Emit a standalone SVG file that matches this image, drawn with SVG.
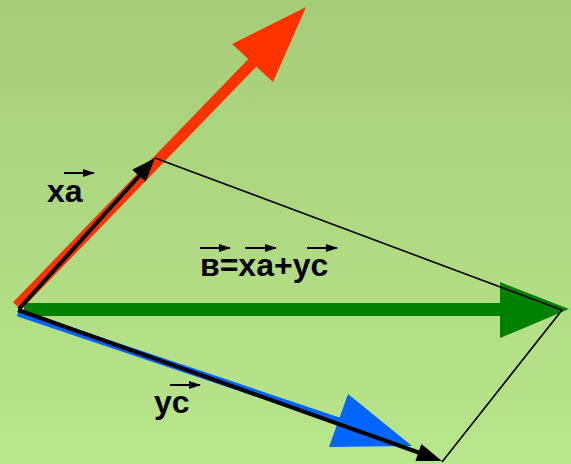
<svg xmlns="http://www.w3.org/2000/svg" width="571" height="464" viewBox="0 0 571 464">
<defs>
<linearGradient id="bg" x1="0" y1="0" x2="0" y2="1">
<stop offset="0" stop-color="#a6cd79"/>
<stop offset="1" stop-color="#b8e68c"/>
</linearGradient>
<marker id="sm" markerWidth="12" markerHeight="8" refX="11" refY="4" orient="auto" markerUnits="userSpaceOnUse">
<path d="M0,0 L12,4 L0,8 Z" fill="#000"/>
</marker>
</defs>
<style>
.lbl{font-family:"Liberation Sans",Arial,sans-serif;font-weight:bold;font-size:32px;fill:#000}
.ov{stroke:#000;stroke-width:2;marker-end:url(#sm)}
.thin{fill:none;stroke:#000;stroke-width:1.6}
</style>
<rect width="571" height="464" fill="url(#bg)"/>
<g id="connectors">
<g id="green">
<line x1="24" y1="309.5" x2="505" y2="309.5" stroke="#008000" stroke-width="13"/>
<polygon points="500,282 500,338 569,309" fill="#008000"/>
</g>
<g id="red">
<line x1="17" y1="306" x2="255" y2="60" stroke="#ff3300" stroke-width="11"/>
<polygon points="306,7 232,44 273,82" fill="#ff3300"/>
</g>
<g id="blue">
<line x1="18" y1="313" x2="345" y2="423" stroke="#0066ff" stroke-width="7"/>
<polygon points="412,446 348,394 329,447" fill="#0066ff"/>
</g>
<g id="xa-vec">
<line x1="19" y1="309" x2="141" y2="174" stroke="#000" stroke-width="4"/>
<polygon points="155,158 132.2,169.8 145.6,181.8" fill="#000"/>
</g>
<g id="yc-vec">
<line x1="18" y1="310" x2="420" y2="453" stroke="#000" stroke-width="4"/>
<polygon points="442,461 421.4,444.1 415.4,461.1" fill="#000"/>
</g>
<path class="thin" d="M155,158 L562,310 L442,462"/>
</g>
<g id="label-xa">
<line class="ov" x1="64" y1="173" x2="94" y2="173"/>
<text class="lbl" x="47" y="202">xa</text>
</g>
<g id="label-sum">
<line class="ov" x1="200" y1="248" x2="230" y2="248"/>
<line class="ov" x1="245" y1="248" x2="276" y2="248"/>
<line class="ov" x1="307" y1="248" x2="337" y2="248"/>
<text class="lbl" x="200" y="276">в=xa+yc</text>
</g>
<g id="label-yc">
<line class="ov" x1="170" y1="385" x2="200" y2="385"/>
<text class="lbl" x="154" y="413">yc</text>
</g>
</svg>
